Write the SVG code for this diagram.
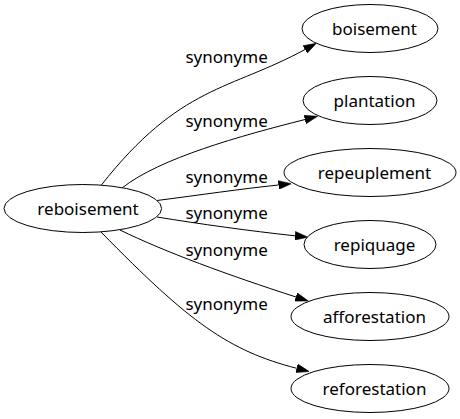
<svg xmlns="http://www.w3.org/2000/svg" width="460" height="419" viewBox="0 0 460 419">
<style>
  .node ellipse { fill: #ffffff; stroke: #000000; stroke-width: 1; }
  .node text { font-family: "Noto Sans", "DejaVu Sans", sans-serif; font-size: 17px; fill: #000000; text-anchor: middle; }
  .edge path { fill: none; stroke: #000000; stroke-width: 1; marker-end: url(#arrow); }
  .label { font-family: "Noto Sans", "DejaVu Sans", sans-serif; font-size: 17px; fill: #000000; text-anchor: middle; }
</style>
<defs>
  <marker id="arrow" markerUnits="userSpaceOnUse" markerWidth="13" markerHeight="9" viewBox="0 0 12 8" refX="0" refY="4" orient="auto">
    <path d="M0,0 L12,4 L0,8 z" fill="#000000" stroke="#000000" stroke-width="0.5"/>
  </marker>
</defs>
<rect width="460" height="419" fill="#ffffff"/>
<g id="edges" class="edge">
  <path d="M101,185.5 C180,85 230.2,90.3 305,49.5"/>
  <path d="M122,188 C160,158 240,136 305,119.5"/>
  <path d="M157,200.5 C200,195 240,189 278.5,185"/>
  <path d="M157,217 C200,224 250,231 295,235.8"/>
  <path d="M120,230 C165,252 228,275 296,297"/>
  <path d="M101,232 C190,323 228.8,350.8 296.7,368.3"/>
</g>
<g id="edge-labels">
  <text class="label" x="226.6" y="62.7">synonyme</text>
  <text class="label" x="226.6" y="127">synonyme</text>
  <text class="label" x="226.6" y="183">synonyme</text>
  <text class="label" x="226.6" y="219">synonyme</text>
  <text class="label" x="226.6" y="256">synonyme</text>
  <text class="label" x="226.6" y="310">synonyme</text>
</g>
<g id="node-reboisement" class="node">
  <ellipse cx="82.8" cy="208.5" rx="78.8" ry="24"/>
  <text x="88" y="215">reboisement</text>
</g>
<g id="node-boisement" class="node">
  <ellipse cx="370" cy="28.5" rx="68" ry="24"/>
  <text x="374.5" y="34.5">boisement</text>
</g>
<g id="node-plantation" class="node">
  <ellipse cx="370" cy="100.5" rx="67" ry="24"/>
  <text x="374.5" y="106.5">plantation</text>
</g>
<g id="node-repeuplement" class="node">
  <ellipse cx="370" cy="172.5" rx="86" ry="24"/>
  <text x="374.5" y="178.5">repeuplement</text>
</g>
<g id="node-repiquage" class="node">
  <ellipse cx="370" cy="244.5" rx="66" ry="24"/>
  <text x="374.5" y="250.5">repiquage</text>
</g>
<g id="node-afforestation" class="node">
  <ellipse cx="370" cy="316.5" rx="79" ry="24"/>
  <text x="374.5" y="322.5">afforestation</text>
</g>
<g id="node-reforestation" class="node">
  <ellipse cx="370" cy="388.5" rx="79" ry="24"/>
  <text x="374.5" y="394.5">reforestation</text>
</g>
</svg>
